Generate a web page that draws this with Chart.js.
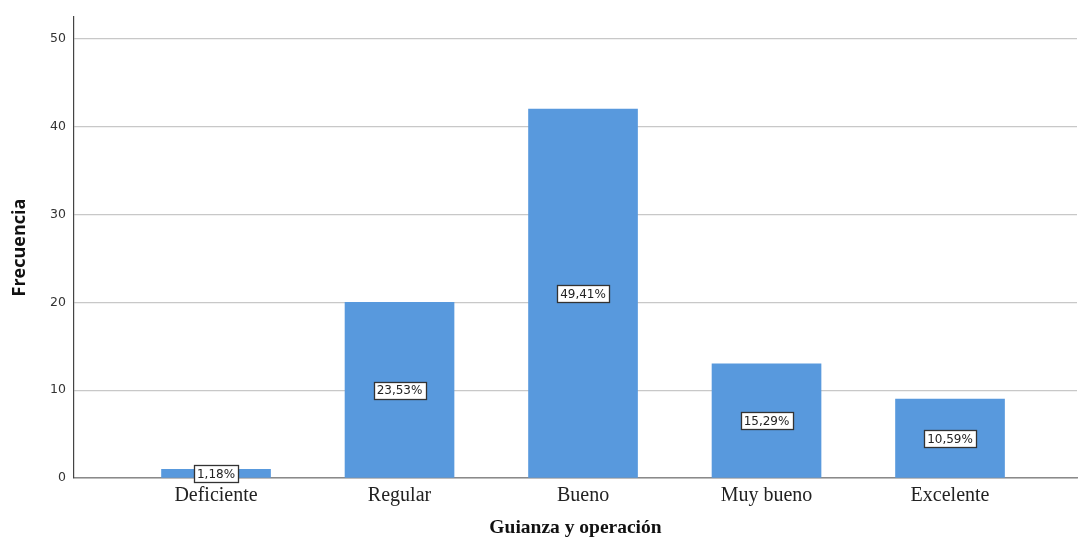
<!DOCTYPE html>
<html><head><meta charset="utf-8">
<script src="https://cdn.jsdelivr.net/npm/chart.js@4.4.1/dist/chart.umd.min.js"></script>
<style>html,body{margin:0;padding:0;background:#fff}#wrap{width:1078px;height:538px;position:relative}</style>
</head><body><div id="wrap"><canvas id="c" width="1078" height="538"></canvas></div>
<script>
const categories = ["Deficiente", "Regular", "Bueno", "Muy bueno", "Excelente"];
const frequencies = [1, 20, 42, 13, 9];
const percentLabels = ["1,18%", "23,53%", "49,41%", "15,29%", "10,59%"];
const yTicks = [0, 10, 20, 30, 40, 50];

const labelPlugin = {
  id: 'boxLabels',
  afterDatasetsDraw(chart) {
    const ctx = chart.ctx, xs = chart.scales.x, ys = chart.scales.y;
    ctx.save();
    ctx.font = '12px "DejaVu Sans"';
    ctx.textAlign = 'center'; ctx.textBaseline = 'middle';
    frequencies.forEach((v, i) => {
      const x = xs.getPixelForValue(i);
      const y = ys.getPixelForValue(v / 2);
      const t = percentLabels[i];
      const w = Math.round(ctx.measureText(t).width + 6), h = 17;
      const bx = Math.round(x - w / 2) + 0.5, by = Math.round(y - h / 2) + 0.5;
      ctx.fillStyle = '#fff';
      ctx.fillRect(bx, by, w, h);
      ctx.strokeStyle = '#333'; ctx.lineWidth = 1.3;
      ctx.strokeRect(bx, by, w, h);
      ctx.fillStyle = '#222';
      ctx.fillText(t, x, y + 1);
    });
    ctx.restore();
  }
};

new Chart(document.getElementById('c'), {
  type: 'bar',
  data: {
    datasets: [{
      data: frequencies.map((v, i) => ({ x: i, y: v })),
      backgroundColor: '#5899DD',
      borderWidth: 0,
      barThickness: 109
    }]
  },
  options: {
    responsive: false,
    animation: false,
    events: [],
    plugins: { legend: { display: false }, tooltip: { enabled: false } },
    layout: { padding: { top: 17, right: 1, left: 0, bottom: 0 } },
    scales: {
      x: {
        type: 'linear',
        offset: false,
        min: -0.774, max: 4.692,
        afterBuildTicks: s => { s.ticks = categories.map((c, i) => ({ value: i })); },
        afterFit: s => { s.height = 60; },
        grid: { display: false, drawTicks: false, offset: false },
        border: { display: true, color: '#8a8a8a', width: 1.5 },
        ticks: {
          callback: (v) => categories[v] ?? '',
          font: { family: '"Liberation Serif"', size: 20 },
          color: '#222', padding: 6, maxRotation: 0, autoSkip: false
        },
        title: {
          display: true, text: 'Guianza y operación',
          font: { family: '"Liberation Serif"', size: 19.5, weight: 'bold', lineHeight: 1 },
          color: '#111', padding: { top: 0, bottom: 0 }
        }
      },
      y: {
        min: 0, max: 52.5,
        afterBuildTicks: s => { s.ticks = yTicks.map(v => ({ value: v })); },
        afterFit: s => { s.width = 74; },
        grid: { color: '#c8c8c8', lineWidth: 1.2, drawTicks: false },
        border: { display: true, color: '#444', width: 1.2 },
        ticks: {
          font: { family: '"DejaVu Sans"', size: 12.5 },
          color: '#333', padding: 8
        },
        title: {
          display: true, text: 'Frecuencia',
          font: { family: '"Open Sans"', size: 18, weight: 'bold' },
          color: '#111', padding: { top: 9, bottom: 0 }
        }
      }
    }
  },
  plugins: [labelPlugin]
});
</script></body></html>
